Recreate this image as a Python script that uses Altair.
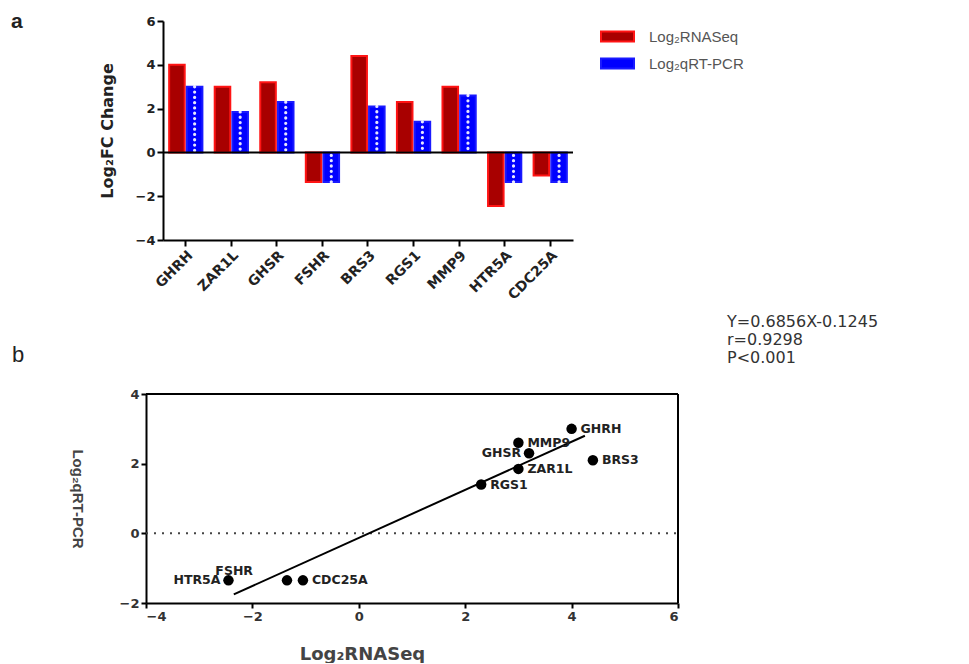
import altair as alt
import pandas as pd

# ---------------- data ----------------
genes = ["GHRH", "ZAR1L", "GHSR", "FSHR", "BRS3", "RGS1", "MMP9", "HTR5A", "CDC25A"]
rnaseq = [4.0, 3.0, 3.2, -1.35, 4.4, 2.3, 3.0, -2.45, -1.05]
qpcr = [3.0, 1.85, 2.3, -1.35, 2.1, 1.4, 2.6, -1.35, -1.35]
series_names = ["Log₂RNASeq", "Log₂qRT-PCR"]
bar_ticks = [-4, -2, 0, 2, 4, 6]
scatter_x_ticks = [-4, -2, 0, 2, 4, 6]
scatter_y_ticks = [-2, 0, 2, 4]
scatter_x_domain = [-4, 6]
scatter_y_domain = [-2, 4]
left_labeled = ["GHSR", "HTR5A"]
upper_left_labeled = ["FSHR"]
equation_lines = ["Y=0.6856X-0.1245", "r=0.9298", "P<0.001"]
zero_line = [0]

FONT = "Liberation Sans"
WFONT = "DejaVu Sans"

wide = pd.DataFrame({"gene": genes, "rnaseq": rnaseq, "qpcr": qpcr})
long = pd.DataFrame({
    "gene": genes * 2,
    "series": [series_names[0]] * len(genes) + [series_names[1]] * len(genes),
    "value": rnaseq + qpcr,
})
zero_df = pd.DataFrame({"zero": zero_line})
one_row = pd.DataFrame({"k": [0]})

# ---------------- panel a: grouped bars ----------------
xband = alt.X(
    "gene:N", sort=genes,
    scale=alt.Scale(paddingInner=0.27, paddingOuter=0.135),
    axis=alt.Axis(title=None, labelAngle=-45, labelFont=WFONT, labelFontSize=14,
                  labelFontWeight="bold", labelColor="#222", domainColor="black",
                  domainWidth=2, tickColor="black", tickWidth=2, tickSize=6,
                  labelPadding=2),
)
xoff = alt.XOffset("series:N", sort=series_names,
                   scale=alt.Scale(domain=series_names, paddingInner=0.12))
ybar = alt.Y(
    "value:Q",
    scale=alt.Scale(domain=[-4, 6], nice=False),
    axis=alt.Axis(values=bar_ticks, title="Log₂FC Change", titleFont=WFONT,
                  titleFontSize=16, titleFontWeight="bold", titleColor="#222",
                  titlePadding=20, labelFont=WFONT, labelFontSize=13,
                  labelFontWeight="bold", labelColor="#222", domainColor="black",
                  domainWidth=2, tickColor="black", tickWidth=2, tickSize=6,
                  grid=False),
)
legend = alt.Legend(title=None, orient="none", legendX=437, legendY=-2,
                    symbolType="M-1,-0.3H1V0.3H-1Z", symbolSize=1089,
                    symbolStrokeWidth=2, labelFont=FONT, labelFontSize=15,
                    labelColor="#555", labelOffset=14, rowPadding=-8)

bars = alt.Chart(long).mark_bar(strokeWidth=2).encode(
    x=xband,
    xOffset=xoff,
    y=ybar,
    fill=alt.Fill("series:N", sort=series_names,
                  scale=alt.Scale(domain=series_names, range=["#a80000", "#0000ff"]),
                  legend=legend),
    stroke=alt.Stroke("series:N", sort=series_names,
                      scale=alt.Scale(domain=series_names, range=["#ff1414", "#1a1aff"]),
                      legend=legend),
)

dots = alt.Chart(long).transform_filter(
    alt.datum.series == series_names[1]
).mark_rule(color="white", strokeWidth=3.2, strokeDash=[0.1, 5.2],
            strokeCap="round", opacity=0.9).encode(
    x=xband, xOffset=xoff, y="value:Q", y2=alt.datum(0)
)

zero_rule = alt.Chart(zero_df).mark_rule(color="black", strokeWidth=2).encode(
    y="zero:Q"
)

letter_a = alt.Chart(one_row).mark_text(
    text="a", font=FONT, fontSize=21, fontWeight="bold", color="#222",
    align="left", baseline="alphabetic"
).encode(x=alt.value(-152), y=alt.value(7))

panel_a = alt.layer(bars, dots, zero_rule, letter_a).properties(
    width=410, height=219, view=alt.ViewBackground(stroke=None)
)

# ---------------- panel b: scatter ----------------
# plot area spans -17..515 px relative to the shared column origin
xq = alt.X(
    "rnaseq:Q", scale=alt.Scale(domain=scatter_x_domain, nice=False, range=[-17, 515]),
    axis=alt.Axis(values=scatter_x_ticks, title="Log₂RNASeq", titleFont=WFONT,
                  titleFontSize=18, titleFontWeight="bold", titleColor="#444",
                  titleX=199, titlePadding=22, labelFont=WFONT, labelFontSize=13,
                  labelFontWeight="bold", labelColor="#333", domainColor="black",
                  domainWidth=2, tickColor="black", tickWidth=2, tickSize=5,
                  grid=False),
)
yq = alt.Y(
    "qpcr:Q", scale=alt.Scale(domain=scatter_y_domain, nice=False),
    axis=alt.Axis(values=scatter_y_ticks, title="Log₂qRT-PCR", titleAngle=90,
                  titleFont=FONT, titleFontSize=15, titleFontWeight="bold",
                  titleColor="#444", titlePadding=50, offset=17, labelFont=WFONT,
                  labelFontSize=13, labelFontWeight="bold", labelColor="#333",
                  domainColor="black", domainWidth=2, tickColor="black",
                  tickWidth=2, tickSize=5, grid=False),
)

base = alt.Chart(wide)
frame_df = pd.DataFrame({"x0": [scatter_x_domain[0]], "x1": [scatter_x_domain[1]],
                         "y0": [scatter_y_domain[0]], "y1": [scatter_y_domain[1]],
                         "zero": zero_line})
frame_top = alt.Chart(frame_df).mark_rule(color="black", strokeWidth=2).encode(
    x="x0:Q", x2="x1:Q", y="y1:Q")
frame_right = alt.Chart(frame_df).mark_rule(color="black", strokeWidth=2).encode(
    x="x1:Q", y="y0:Q", y2="y1:Q")
zero_dotted = alt.Chart(frame_df).mark_rule(
    color="#444", strokeWidth=2, strokeDash=[2, 6]
).encode(x="x0:Q", x2="x1:Q", y="zero:Q")

fit = base.transform_regression("rnaseq", "qpcr", extent=[-2.35, 4.25]).mark_line(
    color="black", strokeWidth=2
).encode(x="rnaseq:Q", y="qpcr:Q")

points = base.mark_circle(size=110, color="black", opacity=1).encode(x=xq, y=yq)

label_style = dict(font=WFONT, fontSize=12.5, fontWeight="bold", color="#222",
                   baseline="middle")
labels_right = base.transform_filter(
    ~alt.FieldOneOfPredicate(field="gene", oneOf=left_labeled + upper_left_labeled)
).mark_text(align="left", dx=9, **label_style).encode(
    x="rnaseq:Q", y="qpcr:Q", text="gene:N")
labels_left = base.transform_filter(
    alt.FieldOneOfPredicate(field="gene", oneOf=left_labeled)
).mark_text(align="right", dx=-8, **label_style).encode(
    x="rnaseq:Q", y="qpcr:Q", text="gene:N")
labels_upper = base.transform_filter(
    alt.FieldOneOfPredicate(field="gene", oneOf=upper_left_labeled)
).mark_text(align="right", dx=-34, dy=-9, **label_style).encode(
    x="rnaseq:Q", y="qpcr:Q", text="gene:N")

equation = alt.Chart(one_row).mark_text(
    font=WFONT, fontSize=16, color="#333", align="left", baseline="top",
    lineHeight=18
).encode(x=alt.value(564), y=alt.value(-80), text=alt.value(equation_lines))

letter_b = alt.Chart(one_row).mark_text(
    text="b", font=FONT, fontSize=22, color="#222", align="left",
    baseline="alphabetic"
).encode(x=alt.value(-151), y=alt.value(-32))

panel_b = alt.layer(zero_dotted, frame_top, frame_right, fit, points,
                    labels_right, labels_left, labels_upper, equation,
                    letter_b).properties(
    width=515, height=209, view=alt.ViewBackground(stroke=None)
)

chart = alt.vconcat(panel_a, panel_b, spacing=11).resolve_scale(
    fill="independent", stroke="independent"
).configure(padding={"left": 3, "top": 3, "right": 0, "bottom": 0}).configure_view(stroke=None)

chart.save("out.html", embed_options={"renderer": "svg", "actions": False})
